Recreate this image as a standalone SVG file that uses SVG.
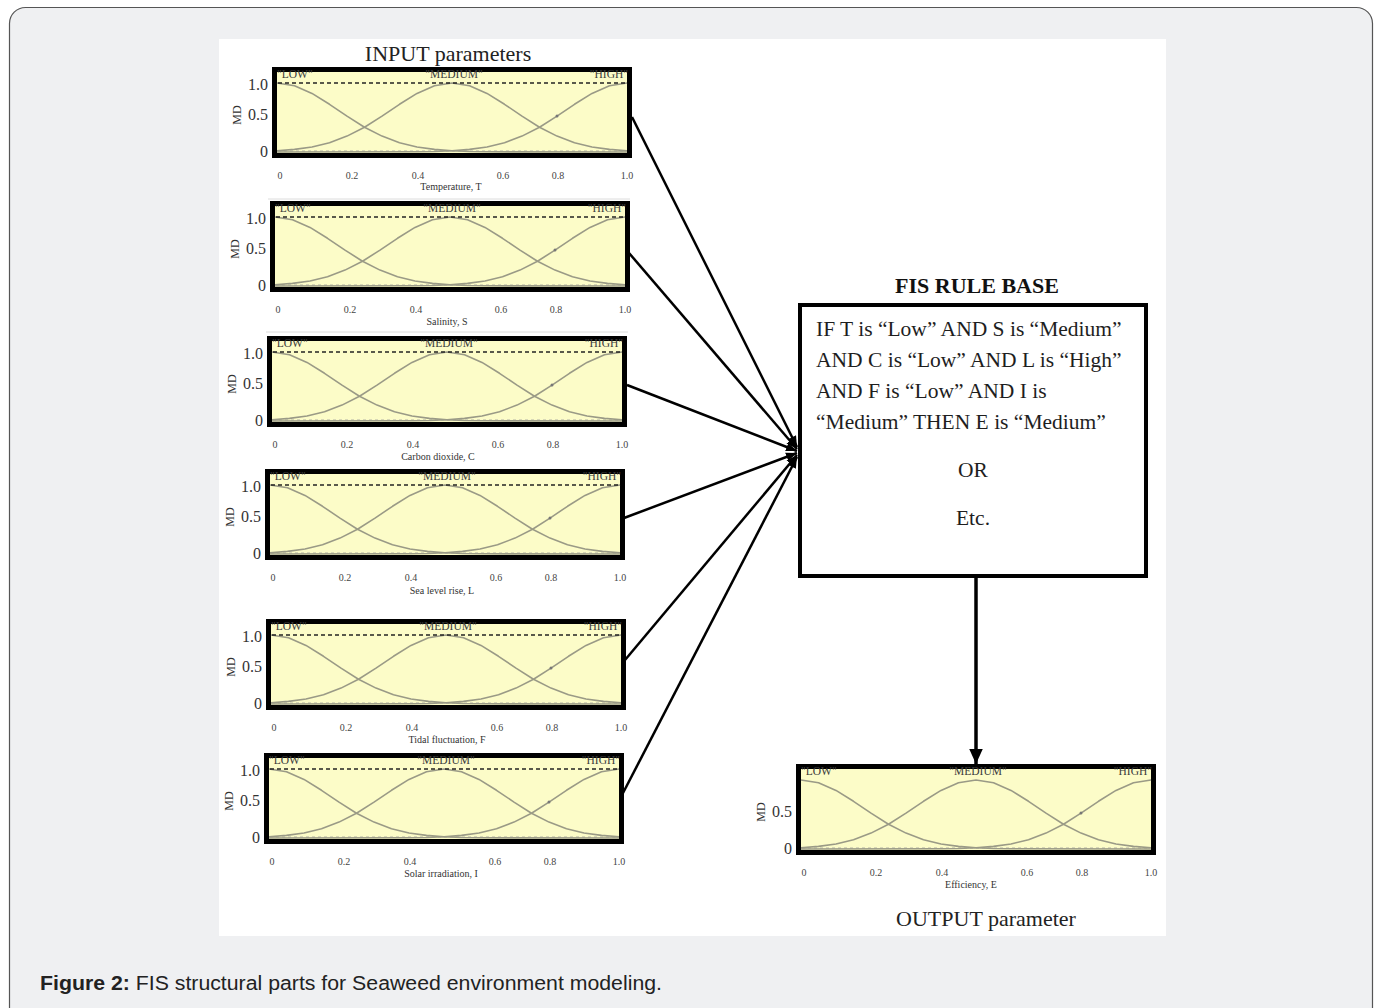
<svg xmlns="http://www.w3.org/2000/svg" xmlns:xlink="http://www.w3.org/1999/xlink" width="1378" height="1008" viewBox="0 0 1378 1008">
<style>
.serif{font-family:"Liberation Serif","Times New Roman",serif}
.xt{font-family:"Liberation Serif",serif;font-size:10px;fill:#444;text-anchor:middle}
.yt{font-family:"Liberation Serif",serif;font-size:16px;fill:#333;text-anchor:end}
.md{font-family:"Liberation Serif",serif;font-size:12px;fill:#333;text-anchor:middle}
.mfl{font-family:"Liberation Serif",serif;font-size:11.5px;fill:#3a3a3a}
.an{font-family:"Liberation Serif",serif;font-size:10px;fill:#333;text-anchor:middle}
.mf{fill:none;stroke:#9a9a86;stroke-width:1.6;stroke-linejoin:round}
.dash1{stroke:#222;stroke-width:1.5;stroke-dasharray:4 3}
.dash0{stroke:#999;stroke-width:1;stroke-dasharray:3 3;opacity:.7}
.conn{stroke:#000;stroke-width:2.5;fill:none}
.rule{font-family:"Liberation Serif","Times New Roman",serif;font-size:21.5px;fill:#1e1e1e}
.sep{stroke:#dcdcdc;stroke-width:1}
</style>
<defs>
<marker id="ah" viewBox="0 0 10 10" refX="10" refY="5" markerWidth="11" markerHeight="11" markerUnits="userSpaceOnUse" orient="auto">
<path d="M0,1 L10,5 L0,9 z" fill="#000"/>
</marker>
<marker id="ah2" viewBox="0 0 10 10" refX="10" refY="5" markerWidth="15" markerHeight="15" markerUnits="userSpaceOnUse" orient="auto">
<path d="M0,0.5 L10,5 L0,9.5 z" fill="#000"/>
</marker>
<g id="plotBody">
<rect x="2.5" y="2.5" width="355" height="86" fill="#fcfcc8" stroke="#000" stroke-width="5"/>
<line class="dash0" x1="6" y1="84" x2="354" y2="84"/>
<polyline class="mf" points="5,16 22.5,18.8 40,26.4 57.5,37.3 75,49.1 92.5,60.2 110,69.1 127.5,75.7 145,80 162.5,82.4 180,83.8 197.5,84.5 215,84.8 355,85"/>
<polyline class="mf" points="5,83.8 22.5,82.4 40,80 57.5,75.7 75,69.1 92.5,60.2 110,49.1 127.5,37.3 145,26.4 162.5,18.8 180,16 197.5,18.8 215,26.4 232.5,37.3 250,49.1 267.5,60.2 285,69.1 302.5,75.7 320,80 337.5,82.4 355,83.8"/>
<polyline class="mf" points="355,16 337.5,18.8 320,26.4 302.5,37.3 285,49.1 267.5,60.2 250,69.1 232.5,75.7 215,80 197.5,82.4 180,83.8 162.5,84.5 145,84.8 5,85"/>
<circle cx="285" cy="49" r="1.5" fill="#777"/>
<text class="mfl" x="5" y="11">"LOW"</text>
<text class="mfl" x="182" y="11" text-anchor="middle">"MEDIUM"</text>
<text class="mfl" x="356" y="11" text-anchor="end">"HIGH"</text>
</g>
<g id="xticks">
<text class="xt" x="8" y="112">0</text>
<text class="xt" x="80" y="112">0.2</text>
<text class="xt" x="146" y="112">0.4</text>
<text class="xt" x="231" y="112">0.6</text>
<text class="xt" x="286" y="112">0.8</text>
<text class="xt" x="355" y="112">1.0</text>
</g>
<g id="yticks">
<text class="yt" x="-4" y="23">1.0</text>
<text class="yt" x="-4" y="53">0.5</text>
<text class="yt" x="-4" y="90">0</text>
<text class="md" transform="translate(-31,48) rotate(-90)">MD</text>
</g>
</defs>

<rect x="9.5" y="7.5" width="1363" height="1030" rx="16" ry="16" fill="#eff0f2" stroke="#555" stroke-width="1.2"/>
<rect x="219" y="39" width="947" height="897" fill="#ffffff"/>

<text class="serif" x="448" y="61" font-size="22" fill="#222" text-anchor="middle">INPUT parameters</text>

<g id="plot-temperature" transform="translate(272,67)">
<use xlink:href="#plotBody"/>
<line class="dash1" x1="6" y1="16" x2="354" y2="16"/>
<use xlink:href="#yticks"/>
<use xlink:href="#xticks"/>
<text class="an" x="179" y="123">Temperature, T</text>
</g>
<line class="sep" x1="268" y1="199" x2="630" y2="199"/>

<g id="plot-salinity" transform="translate(270,201)">
<use xlink:href="#plotBody"/>
<line class="dash1" x1="6" y1="16" x2="354" y2="16"/>
<use xlink:href="#yticks"/>
<use xlink:href="#xticks"/>
<text class="an" x="177" y="124">Salinity, S</text>
</g>
<line class="sep" x1="266" y1="332" x2="628" y2="332"/>

<g id="plot-carbon" transform="translate(267,336)">
<use xlink:href="#plotBody"/>
<line class="dash1" x1="6" y1="16" x2="354" y2="16"/>
<use xlink:href="#yticks"/>
<use xlink:href="#xticks"/>
<text class="an" x="171" y="124">Carbon dioxide, C</text>
</g>

<g id="plot-sealevel" transform="translate(265,469)">
<use xlink:href="#plotBody"/>
<line class="dash1" x1="6" y1="16" x2="354" y2="16"/>
<use xlink:href="#yticks"/>
<use xlink:href="#xticks"/>
<text class="an" x="177" y="125">Sea level rise, L</text>
</g>

<g id="plot-tidal" transform="translate(266,619)">
<use xlink:href="#plotBody"/>
<line class="dash1" x1="6" y1="16" x2="354" y2="16"/>
<use xlink:href="#yticks"/>
<use xlink:href="#xticks"/>
<text class="an" x="181" y="124">Tidal fluctuation, F</text>
</g>

<g id="plot-solar" transform="translate(264,753)">
<use xlink:href="#plotBody"/>
<line class="dash1" x1="6" y1="16" x2="354" y2="16"/>
<use xlink:href="#yticks"/>
<use xlink:href="#xticks"/>
<text class="an" x="177" y="124">Solar irradiation, I</text>
</g>

<g id="fis-rule-base">
<text class="serif" x="977" y="293" font-size="22" font-weight="bold" fill="#111" text-anchor="middle">FIS RULE BASE</text>
<rect x="800" y="305" width="346" height="271" fill="#fff" stroke="#000" stroke-width="4"/>
<text class="rule" x="816" y="336">IF T is “Low” AND S is “Medium”</text>
<text class="rule" x="816" y="367">AND C is “Low” AND L is “High”</text>
<text class="rule" x="816" y="398">AND F is “Low” AND I is</text>
<text class="rule" x="816" y="429">“Medium” THEN E is “Medium”</text>
<text class="rule" x="973" y="477" text-anchor="middle">OR</text>
<text class="rule" x="973" y="525" text-anchor="middle">Etc.</text>
</g>

<g id="plot-efficiency" transform="translate(796,764)">
<use xlink:href="#plotBody"/>
<text class="yt" x="-4" y="53">0.5</text>
<text class="yt" x="-4" y="90">0</text>
<text class="md" transform="translate(-31,48) rotate(-90)">MD</text>
<use xlink:href="#xticks"/>
<text class="an" x="175" y="124">Efficiency, E</text>
</g>
<text class="serif" x="986" y="926" font-size="22" fill="#222" text-anchor="middle">OUTPUT parameter</text>

<g id="connectors">
<line class="conn" x1="632" y1="117" x2="797" y2="447" marker-end="url(#ah)"/>
<line class="conn" x1="629" y1="253" x2="797" y2="449" marker-end="url(#ah)"/>
<line class="conn" x1="627" y1="385" x2="797" y2="451" marker-end="url(#ah)"/>
<line class="conn" x1="624" y1="518" x2="797" y2="453" marker-end="url(#ah)"/>
<line class="conn" x1="625" y1="660" x2="797" y2="455" marker-end="url(#ah)"/>
<line class="conn" x1="623" y1="793" x2="797" y2="457" marker-end="url(#ah)"/>
<line x1="976" y1="577" x2="976" y2="764" stroke="#000" stroke-width="3.5" marker-end="url(#ah2)"/>
</g>

<text x="40" y="990" font-family="Liberation Sans, Arial, sans-serif" font-size="20" fill="#222" textLength="622" lengthAdjust="spacingAndGlyphs"><tspan font-weight="bold">Figure 2:</tspan> FIS structural parts for Seaweed environment modeling.</text>
</svg>
